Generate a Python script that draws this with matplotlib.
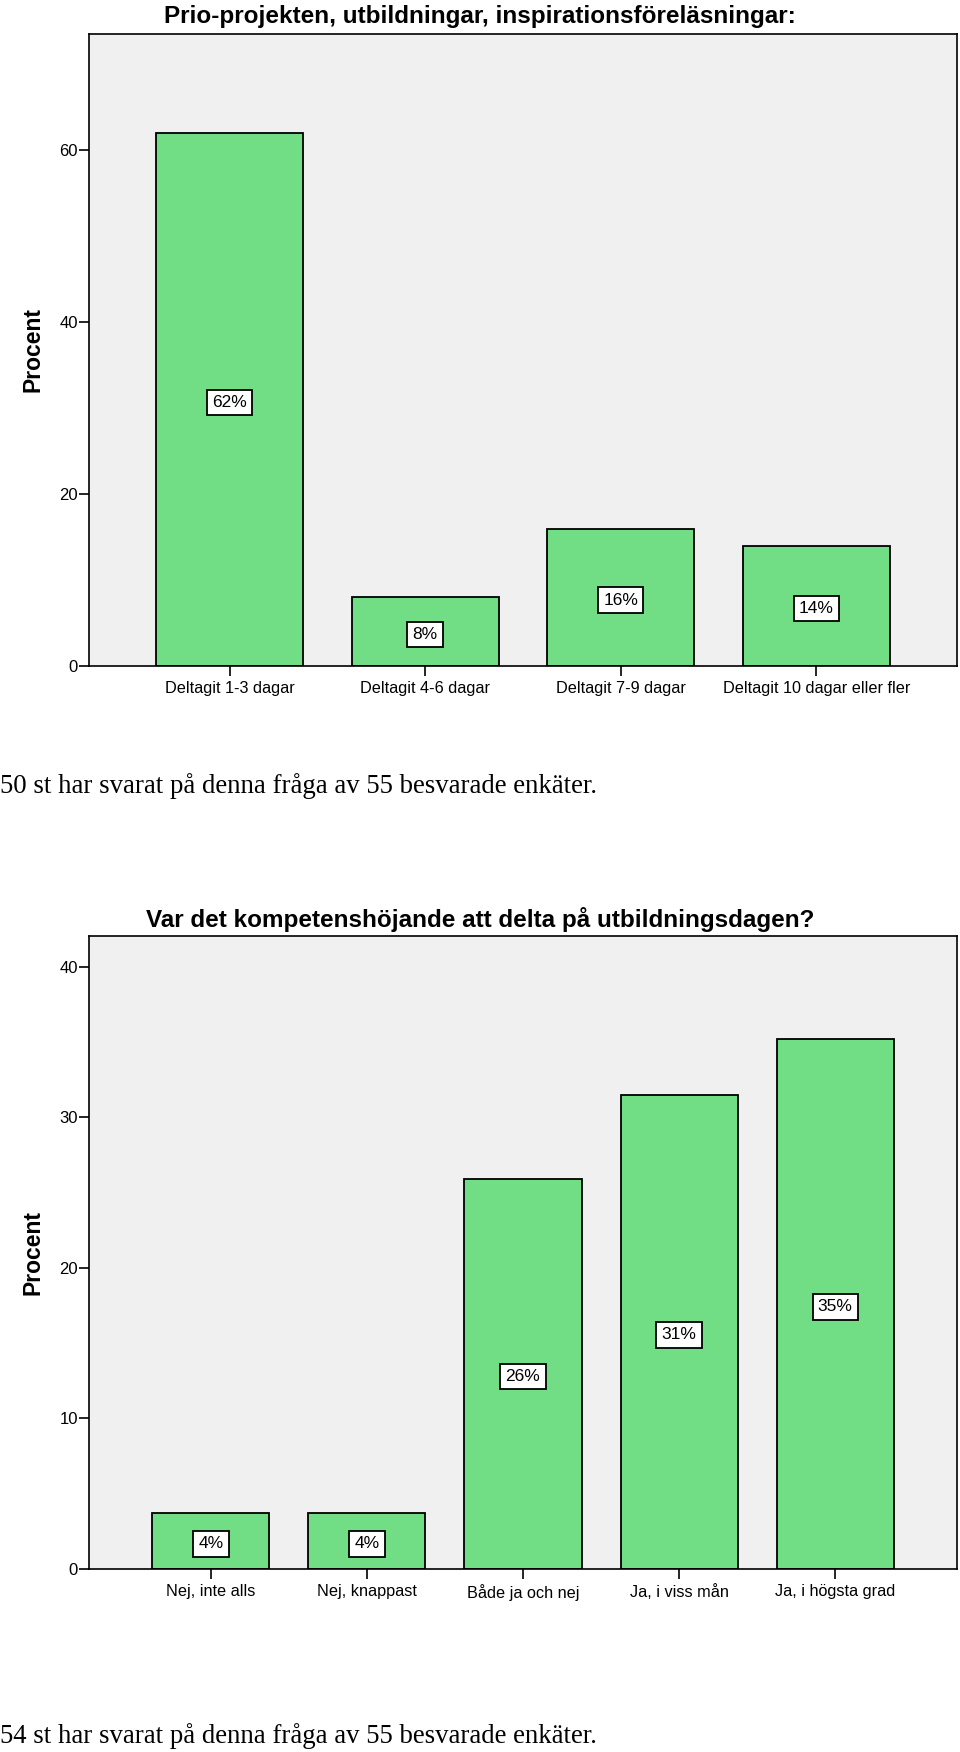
import matplotlib
matplotlib.use("Agg")
import matplotlib.pyplot as plt

# ---- data ----
title1 = "Prio-projekten, utbildningar, inspirationsföreläsningar:"
cats1 = ["Deltagit 1-3 dagar", "Deltagit 4-6 dagar", "Deltagit 7-9 dagar",
         "Deltagit 10 dagar eller fler"]
vals1 = [62.0, 8.0, 16.0, 14.0]
yticks1 = [0, 20, 40, 60]
note1 = "50 st har svarat på denna fråga av 55 besvarade enkäter."

title2 = "Var det kompetenshöjande att delta på utbildningsdagen?"
cats2 = ["Nej, inte alls", "Nej, knappast", "Både ja och nej", "Ja, i viss mån",
         "Ja, i högsta grad"]
vals2 = [3.70, 3.70, 25.93, 31.48, 35.19]
yticks2 = [0, 10, 20, 30, 40]
note2 = "54 st har svarat på denna fråga av 55 besvarade enkäter."

ylabel = "Procent"

# ---- style ----
BAR = "#71DE86"
BG = "#F0F0F0"
SANS = "Liberation Sans"
SERIF = "Liberation Serif"

W, H = 960, 1752
fig = plt.figure(figsize=(W / 100, H / 100), dpi=100)


def px_axes(left, top, right, bottom):
    return fig.add_axes([left / W, 1 - bottom / H, (right - left) / W, (bottom - top) / H])


def draw(ax, cats, vals, yticks, ymax, xpad):
    x = list(range(len(cats)))
    ax.set_facecolor(BG)
    ax.bar(x, vals, width=0.75, color=BAR, edgecolor="black", linewidth=1.3, zorder=2)
    ax.set_xlim(-xpad, len(cats) - 1 + xpad)
    ax.set_ylim(0, ymax)
    ax.set_yticks(yticks)
    ax.set_yticklabels([str(t) for t in yticks], fontfamily=SANS, fontsize=12)
    ax.set_xticks(x)
    ax.set_xticklabels(cats, fontfamily=SANS, fontsize=11.7)
    ax.tick_params(axis="both", direction="out", length=7.5, width=1.2, color="black")
    ax.tick_params(axis="y", pad=0.5)
    ax.tick_params(axis="x", pad=3)
    for s in ax.spines.values():
        s.set_linewidth(1.2)
        s.set_color("black")
    ax.set_ylabel(ylabel, fontfamily=SANS, fontsize=16.5, fontweight="bold")
    ax.yaxis.label.set_va("center")
    ax.yaxis.set_label_coords((33 - 89) / 868, 0.5)
    for xi, v in zip(x, vals):
        ax.annotate(f"{round(v):d}%", (xi, v / 2), xytext=(0, -2), textcoords="offset points",
                    ha="center", va="center", fontfamily=SANS, fontsize=12.5, zorder=3,
                    bbox=dict(boxstyle="square,pad=0.3", fc="white", ec="black", lw=1.3))


ax1 = px_axes(89, 33.5, 957, 666)
draw(ax1, cats1, vals1, yticks1, 73.6, 0.72)
fig.text(0.5, 1 - 17 / H, title1, ha="center", va="center", fontfamily=SANS,
         fontsize=17.5, fontweight="bold")
fig.text(0.0, 1 - 786 / H, note1, ha="left", va="center", fontfamily=SERIF, fontsize=19.3)

ax2 = px_axes(89, 936, 957, 1569)
draw(ax2, cats2, vals2, yticks2, 42.05, 0.78)
fig.text(0.5, 1 - 920 / H, title2, ha="center", va="center", fontfamily=SANS,
         fontsize=17.5, fontweight="bold")
fig.text(0.0, 1 - 1736 / H, note2, ha="left", va="center", fontfamily=SERIF, fontsize=19.3)

fig.savefig("out.png", dpi=100, facecolor="white")
